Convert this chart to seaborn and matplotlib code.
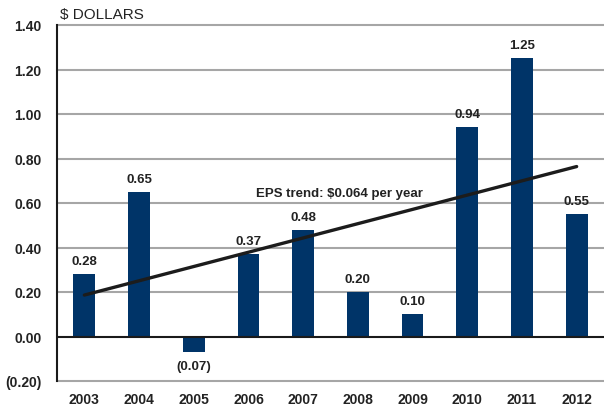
import numpy as np
import pandas as pd
import matplotlib
matplotlib.use("Agg")
import matplotlib.pyplot as plt
import seaborn as sns

years = ["2003", "2004", "2005", "2006", "2007", "2008", "2009", "2010", "2011", "2012"]
eps = [0.28, 0.65, -0.07, 0.37, 0.48, 0.20, 0.10, 0.94, 1.25, 0.55]
yticks = [-0.20, 0.00, 0.20, 0.40, 0.60, 0.80, 1.00, 1.20, 1.40]
ytick_labels = ["(0.20)", "0.00", "0.20", "0.40", "0.60", "0.80", "1.00", "1.20", "1.40"]
trend_label = "EPS trend: $0.064 per year"

sns.set_style("white")
plt.rcParams['font.family'] = ['Liberation Sans', 'DejaVu Sans']

bar_color = "#003468"
grid_color = "#a6a6a6"

df = pd.DataFrame({"year": years, "eps": eps})
df["idx"] = np.arange(len(years))

fig = plt.figure(figsize=(6.04, 4.06), dpi=100)
ax = fig.add_axes([57/604, 24/406, 1 - 57/604, (382-26)/406])

for t in yticks:
    if t == 0:
        continue
    ax.axhline(t, color=grid_color, lw=1.5, zorder=0, clip_on=False)
ax.axhline(0, color="#1a1a1a", lw=1.5, zorder=3)

sns.barplot(data=df, x="year", y="eps", color=bar_color, width=0.4,
            saturation=1, ax=ax, zorder=2, edgecolor=bar_color, linewidth=0)

sns.regplot(data=df, x="idx", y="eps", scatter=False, ci=None, ax=ax,
            line_kws=dict(color="#1c1c1c", lw=2.4, zorder=4), truncate=True)

for i, v in enumerate(eps):
    lab = f"{v:.2f}" if v >= 0 else f"({abs(v):.2f})"
    if v >= 0:
        ax.annotate(lab, (i, v), xytext=(0, 5), textcoords="offset points",
                    ha="center", va="bottom", fontsize=9.5, fontweight="bold", color="#222222")
    else:
        ax.annotate(lab, (i, v), xytext=(0, -6), textcoords="offset points",
                    ha="center", va="top", fontsize=9.5, fontweight="bold", color="#222222")

ax.text(4.67, 0.645, trend_label, ha="center", va="center", fontsize=9.5,
        fontweight="bold", color="#222222")

ax.set_xlim(-0.5, 9.5)
ax.set_ylim(-0.20, 1.40)
ax.set_yticks(yticks)
ax.set_yticklabels(ytick_labels)
ax.set_xlabel("")
ax.set_ylabel("")
ax.tick_params(axis="both", length=0, labelsize=10, colors="#222222")
ax.tick_params(axis="y", pad=11)
ax.tick_params(axis="x", pad=8)
for lab in ax.get_xticklabels() + ax.get_yticklabels():
    lab.set_fontweight("bold")

for s in ["top", "right", "bottom"]:
    ax.spines[s].set_visible(False)
ax.spines["left"].set_color("#1a1a1a")
ax.spines["left"].set_linewidth(1.5)

fig.text(60/604, 1 - 15/406, "$ DOLLARS", ha="left", va="center", fontsize=11, color="#222222")

fig.savefig("out.png", dpi=100)
